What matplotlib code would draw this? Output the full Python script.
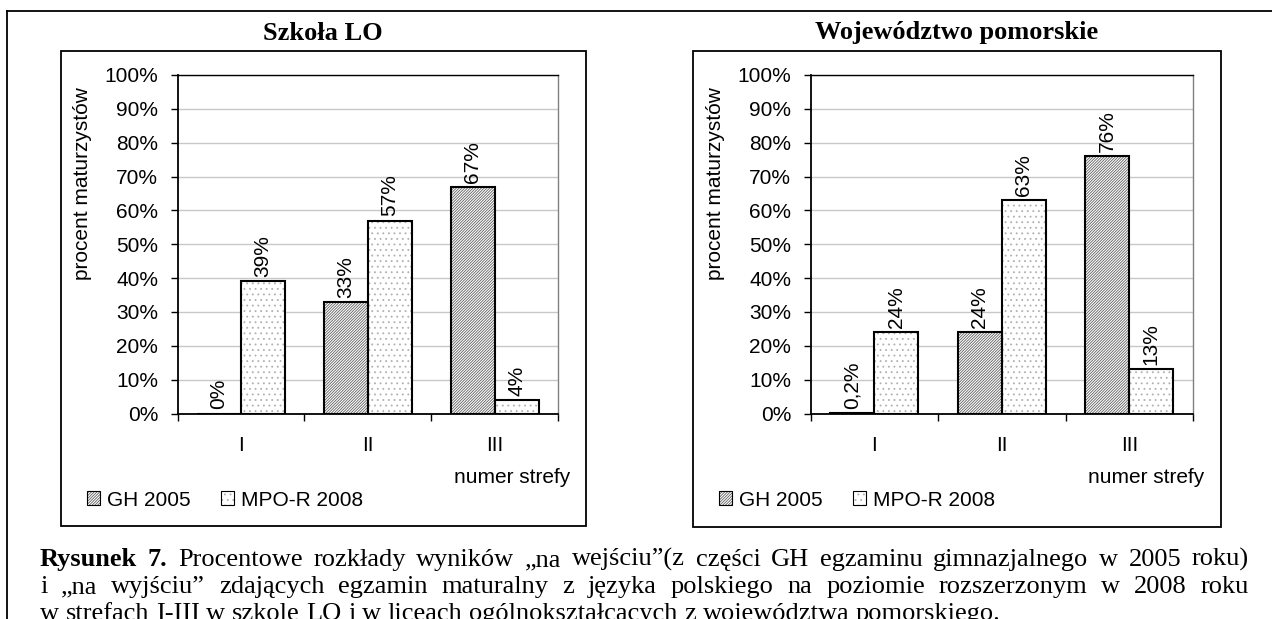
import matplotlib
matplotlib.use('Agg')
from matplotlib import pyplot as plt
from matplotlib.patches import Rectangle, Patch
from matplotlib.lines import Line2D
from matplotlib.legend_handler import HandlerTuple
import numpy as np

# data
zones = ['I', 'II', 'III']
series_names = ['GH 2005', 'MPO-R 2008']
school_gh = [0, 33, 67]
school_mpo = [39, 57, 4]
region_gh = [0.2, 24, 76]
region_mpo = [24, 63, 13]
titles = ['Szkoła LO', 'Województwo pomorskie']
y_ticks = [0, 10, 20, 30, 40, 50, 60, 70, 80, 90, 100]

caption_lines = [
    'Rysunek 7. Procentowe rozkłady wyników „na wejściu”(z części GH egzaminu gimnazjalnego w 2005 roku)',
    'i „na wyjściu” zdających egzamin maturalny z języka polskiego na poziomie rozszerzonym w 2008 roku',
    'w strefach I-III w szkole LO i w liceach ogólnokształcących z województwa pomorskiego.',
]

W, H = 1272, 619
plt.rcParams['font.family'] = ['Liberation Sans', 'DejaVu Sans']
plt.rcParams['hatch.linewidth'] = 0.6

fig = plt.figure(figsize=(W / 100, H / 100), dpi=100)


def fx(px):
    return px / W


def fy(py):
    return 1 - py / H


gh_hatch = dict(hatch='////////////', edgecolor='#606060', facecolor='white', linewidth=0)
mpo_hatch = dict(hatch='...', edgecolor='#b0b0b0', facecolor='white', linewidth=0)
FS = 15


def pct(v):
    return ('%g%%' % v).replace('.', ',')


def draw_chart(px_left, px_right, box, title, gh, mpo):
    ax = fig.add_axes([fx(px_left), fy(413.5), (px_right - px_left) / W, 338.5 / H])
    x = np.arange(len(zones))
    w = 0.345
    ax.bar(x - w / 2, gh, w, **gh_hatch, zorder=2)
    ax.bar(x + w / 2, mpo, w, **mpo_hatch, zorder=2)
    ax.bar(x - w / 2, gh, w, fill=False, edgecolor='black', linewidth=1.5, zorder=3)
    ax.bar(x + w / 2, mpo, w, fill=False, edgecolor='black', linewidth=1.5, zorder=3)
    for xs, vals in ((x - w / 2, gh), (x + w / 2, mpo)):
        for xi, v in zip(xs, vals):
            ax.annotate(pct(v), (xi, v), xytext=(0, 3), textcoords='offset points',
                        rotation=90, ha='center', va='bottom', fontsize=FS)

    ax.set_xlim(-0.5, len(zones) - 0.5)
    ax.set_ylim(0, 100)
    ax.set_yticks(y_ticks)
    ax.set_yticklabels(['%d%%' % t for t in y_ticks], fontsize=FS)
    ax.tick_params(axis='y', length=5, width=1, pad=9)
    ax.set_xticks(np.arange(len(zones) + 1) - 0.5)
    ax.set_xticklabels([])
    ax.tick_params(axis='x', which='major', length=5, width=1)
    ax.set_xticks(x, minor=True)
    ax.set_xticklabels(zones, minor=True, fontsize=FS)
    ax.tick_params(axis='x', which='minor', length=0, pad=16)
    ax.grid(axis='y', color='#c8c8c8', linewidth=1, zorder=0)
    ax.set_axisbelow(True)
    ax.spines['left'].set_linewidth(1.3)
    ax.spines['bottom'].set_linewidth(1.3)
    ax.spines['top'].set_linewidth(1)
    ax.spines['right'].set_color('#808080')
    ax.spines['right'].set_linewidth(1)

    ax.text(-0.25, 0.68, 'procent maturzystów', rotation=90, ha='center', va='center',
            transform=ax.transAxes, fontsize=FS)
    ax.text(0.878, -0.19, 'numer strefy', ha='center', va='center',
            transform=ax.transAxes, fontsize=FS)

    bx0, by0, bx1, by1 = box
    fig.add_artist(Rectangle((fx(bx0), fy(by1)), (bx1 - bx0) / W, (by1 - by0) / H,
                             fill=False, edgecolor='black', linewidth=1.3,
                             transform=fig.transFigure))
    fig.text(fx((bx0 + bx1) / 2), fy(33), title, ha='center', va='center',
             family=['Liberation Serif', 'DejaVu Serif'], fontweight='bold', fontsize=19)

    handles = [
        (Patch(**gh_hatch), Patch(fill=False, edgecolor='black', linewidth=0.8)),
        (Patch(**mpo_hatch), Patch(fill=False, edgecolor='black', linewidth=0.8)),
    ]
    fig.legend(handles, series_names, handler_map={tuple: HandlerTuple(ndivide=1)},
               loc='center left', bbox_to_anchor=(fx(bx0 + 26), fy(500)), ncol=2,
               frameon=False, fontsize=FS, borderpad=0, borderaxespad=0,
               handlelength=0.62, handleheight=0.62, handletextpad=0.35,
               columnspacing=1.45)
    return ax


draw_chart(177.5, 558.3, (60.7, 50.7, 585.5, 525.7), titles[0], school_gh, school_mpo)
draw_chart(810.7, 1193, (692.7, 50.7, 1220.7, 527), titles[1], region_gh, region_mpo)

# page border
fig.add_artist(Line2D([fx(6.5), 1], [fy(10.5), fy(10.5)], color='black', linewidth=1.3,
                      transform=fig.transFigure))
fig.add_artist(Line2D([fx(6.5), fx(6.5)], [fy(10.5), 0], color='black', linewidth=1.3,
                      transform=fig.transFigure))

# caption, first two lines justified
serif = ['Liberation Serif', 'DejaVu Serif']
CFS = 19
renderer = fig.canvas.get_renderer()
baselines = [566, 593, 620]
x_start, x_end = 40, 1249
for i, line in enumerate(caption_lines):
    words = line.split(' ')
    texts = []
    for j, word in enumerate(words):
        bold = (i == 0 and j < 2)
        t = fig.text(0, fy(baselines[i]), word, family=serif, fontsize=CFS,
                     fontweight='bold' if bold else 'normal', va='baseline', ha='left')
        texts.append(t)
    widths = [t.get_window_extent(renderer).width for t in texts]
    if i < len(caption_lines) - 1:
        gap = (x_end - x_start - sum(widths)) / (len(words) - 1)
    else:
        sp = fig.text(0, 0, 'a a', family=serif, fontsize=CFS)
        sa = fig.text(0, 0, 'aa', family=serif, fontsize=CFS)
        gap = sp.get_window_extent(renderer).width - sa.get_window_extent(renderer).width
        sp.remove()
        sa.remove()
    xp = x_start
    for t, wd in zip(texts, widths):
        t.set_x(fx(xp))
        xp += wd + gap

fig.savefig('out.png', dpi=100)
